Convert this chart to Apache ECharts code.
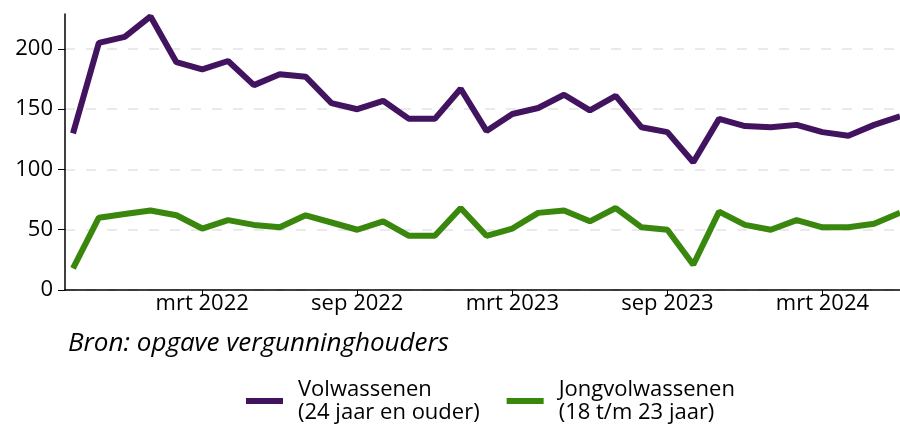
<!DOCTYPE html>
<html>
<head>
<meta charset="utf-8">
<script src="https://cdn.jsdelivr.net/npm/echarts@6/dist/echarts.min.js"></script>
<style>html,body{margin:0;padding:0;background:#fff}#c{width:900px;height:425px}</style>
</head>
<body>
<div id="c"></div>
<script>
const months = ['okt 2021','nov 2021','dec 2021','jan 2022','feb 2022','mrt 2022','apr 2022','mei 2022','jun 2022','jul 2022','aug 2022','sep 2022','okt 2022','nov 2022','dec 2022','jan 2023','feb 2023','mrt 2023','apr 2023','mei 2023','jun 2023','jul 2023','aug 2023','sep 2023','okt 2023','nov 2023','dec 2023','jan 2024','feb 2024','mrt 2024','apr 2024','mei 2024','jun 2024'];
const volwassenen = [130,205,210,227,189,183,190,170,179,177,155,150,157,142,142,167,132,146,151,162,149,161,135,131,106,142,136,135,137,131,128,137,144];
const jongvolwassenen = [18,60,63,66,62,51,58,54,52,62,56,50,57,45,45,68,45,51,64,66,57,68,52,50,21,65,54,50,58,52,52,55,64];
const tickLabels = ['mrt 2022','sep 2022','mrt 2023','sep 2023','mrt 2024'];
const yTicks = [0,50,100,150,200];
const seriesNames = ['Volwassenen\n(24 jaar en ouder)','Jongvolwassenen\n(18 t/m 23 jaar)'];
const source = 'Bron: opgave vergunninghouders';

const tickIdx = tickLabels.map(l => months.indexOf(l));
const FONT = '"Open Sans", sans-serif';
const chart = echarts.init(document.getElementById('c'), null, {renderer:'canvas'});
chart.setOption({
  animation:false,
  textStyle:{fontFamily:FONT},
  title:{text:source,left:63,top:326,textStyle:{fontFamily:FONT,fontStyle:'italic',fontWeight:'normal',fontSize:26,color:'#000'}},
  legend:{
    left:241, top:373, icon:'rect', itemWidth:37, itemHeight:6, itemGap:27,
    textStyle:{fontFamily:FONT,fontSize:22,lineHeight:23,color:'#000',padding:[0,0,0,10]},
    data:seriesNames
  },
  grid:{left:65,top:14,right:0,bottom:135,containLabel:false},
  xAxis:{
    type:'value', min:-0.31, max:months.length-1,
    axisLine:{lineStyle:{color:'#000',width:1.5}},
    axisTick:{show:true,length:6,lineStyle:{color:'#000',width:1},customValues:tickIdx},
    axisLabel:{customValues:tickIdx,formatter:v=>months[Math.round(v)],fontSize:22,color:'#000',margin:3,fontFamily:FONT},
    splitLine:{show:false}
  },
  yAxis:{
    type:'value', min:0, max:229,
    axisLine:{show:true,onZero:false,lineStyle:{color:'#000',width:1.5}},
    axisTick:{show:true,length:7,lineStyle:{color:'#000',width:1},customValues:yTicks},
    axisLabel:{customValues:yTicks,fontSize:22,color:'#000',margin:12,fontFamily:FONT},
    splitLine:{show:true,lineStyle:{color:'#e3e3e3',width:1.5,type:[10,11]}}
  },
  series:[
    {name:seriesNames[0],type:'line',data:volwassenen.map((v,i)=>[i,v]),symbol:'none',lineStyle:{color:'#42145f',width:6},itemStyle:{color:'#42145f'},clip:true},
    {name:seriesNames[1],type:'line',data:jongvolwassenen.map((v,i)=>[i,v]),symbol:'none',lineStyle:{color:'#39870c',width:6},itemStyle:{color:'#39870c'},clip:true}
  ]
});
</script>
</body>
</html>
